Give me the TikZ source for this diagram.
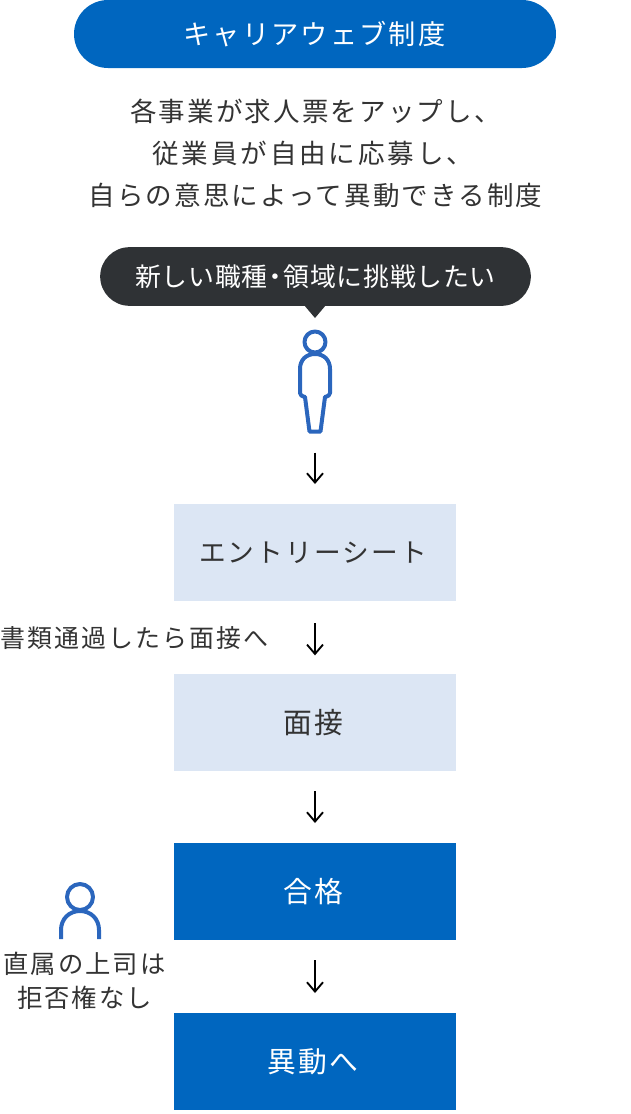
\documentclass[tikz,border=0pt]{standalone}
\usepackage{fontspec}
\setmainfont{Noto Sans CJK JP}[LetterSpace=8]
\usetikzlibrary{arrows.meta}
\definecolor{capsule}{HTML}{0066BF}
\definecolor{pale}{HTML}{DCE6F4}
\definecolor{bubblegrey}{HTML}{2F3235}
\definecolor{figure}{HTML}{2B66BD}
\definecolor{inktext}{HTML}{333333}
\tikzset{
  jptext/.style={font=\fontsize{19.9}{31.5}\selectfont,text=inktext,align=center,inner sep=0pt},
  flowbox/.style={minimum width=211.5pt,minimum height=72.75pt,inner sep=0pt,outer sep=0pt,font=\fontsize{20}{24}\selectfont},
  shortlabel/.style={font=\fontsize{21.6}{24}\selectfont},
  palebox/.style={flowbox,fill=pale,text=inktext},
  bluebox/.style={flowbox,fill=capsule,text=white},
  figureline/.style={draw=figure,line width=3pt,line join=round},
  flowarrow/.style={draw=black,line width=1.4pt,-{Straight Barb[length=7pt,width=12pt,line width=1.4pt]}},
}
\begin{document}
\begin{tikzpicture}[x=0.75pt,y=0.75pt,yscale=-1]
\useasboundingbox (0,0) rectangle (631,1114);

%Title capsule
\node (title) [fill=capsule,text=white,rounded corners=25.5pt,minimum width=361.5pt,minimum height=51pt,inner sep=0pt,font=\fontsize{20.4}{24}\selectfont] at (315,34) {キャリアウェブ制度\kern.8pt};
%Description
\node (description) [jptext] at (315.5,153) {各事業が求人票をアップし、\\{\addfontfeature{LetterSpace=11}従業員が自由に応募し、}\kern4pt\\自らの意思によって異動できる制度};

%Speech bubble
\node (wish) [fill=bubblegrey,text=white,rounded corners=22pt,minimum width=323pt,minimum height=44pt,inner sep=0pt,font=\fontsize{19.4}{24}\selectfont\addfontfeature{LetterSpace=3}] at (315.5,276.5) {新しい職種\kern-3.75pt・\kern-3.75pt 領域に挑戦したい};
\fill [bubblegrey] (304,305) -- (326,305) -- (315,318) -- cycle;

%Applicant figure
\draw [figureline] (315,342) circle (10.5);
\draw [figureline] (315,354) .. controls (306,354) and (300,360) .. (300,369) -- (300,393) .. controls (300,395) and (301.5,396) .. (305,397) -- (309.5,431.5) -- (320.5,431.5) -- (325,397) .. controls (328.5,396) and (330,395) .. (330,393) -- (330,369) .. controls (330,360) and (324,354) .. (315,354) -- cycle;
\coordinate (figurefoot) at (315,434);

%Steps
\node (entry) [palebox] at (315,552.5) {エントリーシート\kern3pt};
\node (interview) [palebox,shortlabel] at (315,722.5) {面接\kern3pt};
\node (passed) [bluebox,shortlabel] at (315,891.5) {合格\kern3pt};
\node (transfer) [bluebox,shortlabel] at (315,1061.5) {異動へ\kern3pt};

%Arrows
\draw [flowarrow,shorten <=14pt,shorten >=15pt] (figurefoot) -- (entry.north);
\draw [flowarrow,shorten <=16.5pt,shorten >=14pt] (entry.south) -- (interview.north);
\draw [flowarrow,shorten <=15pt,shorten >=15pt] (interview.south) -- (passed.north);
\draw [flowarrow,shorten <=15pt,shorten >=15pt] (passed.south) -- (transfer.north);

%Side labels
\node (screening) [jptext,font=\fontsize{18.7}{24}\selectfont] at (134.5,638) {書類通過したら面接へ};
\node (nobar) [jptext,font=\fontsize{19}{26}\selectfont] at (84.5,981) {直属の上司は\\拒否権なし};

%Manager figure
\draw [figureline] (80,897) circle (13);
\draw [figureline,line join=miter] (61,939) -- (61,930) .. controls (61,919) and (69,911) .. (80,911) .. controls (91,911) and (99,919) .. (99,930) -- (99,939);
\end{tikzpicture}
\end{document}
